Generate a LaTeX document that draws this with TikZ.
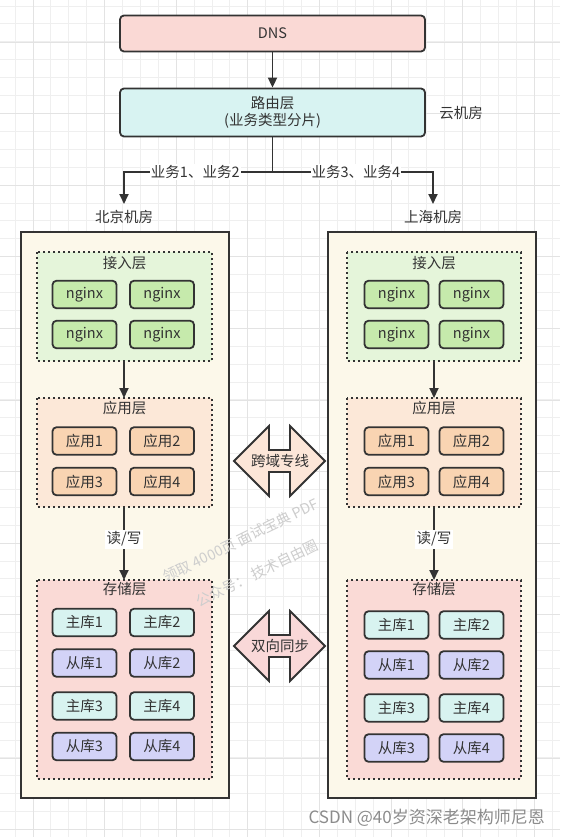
\documentclass[tikz,border=0pt]{standalone}
\usepackage{fontspec}
\setmainfont{Noto Sans CJK SC}
\usetikzlibrary{arrows.meta}
\definecolor{dark}{HTML}{333333}
\definecolor{gridlight}{HTML}{EFEFEF}
\definecolor{griddark}{HTML}{E3E3E3}
\definecolor{dnsfill}{HTML}{FAD9D5}
\definecolor{routefill}{HTML}{D8F3F2}
\definecolor{roomfill}{HTML}{FCF8EA}
\definecolor{accfill}{HTML}{E5F5DA}
\definecolor{nginxfill}{HTML}{C6EAAC}
\definecolor{appfill}{HTML}{FCE8D8}
\definecolor{appcell}{HTML}{F9D4B2}
\definecolor{storfill}{HTML}{FADAD6}
\definecolor{masterfill}{HTML}{D8F3F0}
\definecolor{slavefill}{HTML}{D3D3F7}
\definecolor{crossfill}{HTML}{FCE6D8}
\definecolor{syncfill}{HTML}{F9D8D8}
\definecolor{wm}{HTML}{CDCDCD}
\begin{document}
\begin{tikzpicture}[x=1pt,y=-1pt,
  font=\fontsize{14.5}{17}\selectfont, text=dark,
  cell/.style={draw=dark, line width=1.8pt, rounded corners=4pt,
    minimum width=64pt, minimum height=27.5pt, inner sep=0pt},
  wide/.style={draw=dark, line width=1.8pt, rounded corners=4pt,
    minimum width=305pt, inner sep=0pt, align=center},
  room/.style={draw=dark, line width=1.8pt, fill=roomfill},
  layer/.style={draw=dark, line width=2.2pt, dash pattern=on 2.2pt off 2.8pt},
  lbl/.style={inner sep=1pt},
  arr/.style={draw=dark, line width=1.8pt, -{Triangle[length=10pt,width=9pt]}},
  conn/.style={draw=dark, line width=1.8pt},
  dblarrow/.style={draw=dark, line width=1.8pt, line join=miter},
  wmark/.style={text=wm, font=\fontsize{14.5}{16}\selectfont, rotate=26, inner sep=0pt}]
\useasboundingbox (0,0) rectangle (560,837);
\fill[white] (0,0) rectangle (560,837);
% grid
\foreach \i in {0,...,30} \draw[gridlight, line width=0.8pt] ({15+17.9*\i},0) -- ({15+17.9*\i},837);
\foreach \i in {0,...,46} \draw[gridlight, line width=0.8pt] (0,{6+17.9*\i}) -- (560,{6+17.9*\i});
\foreach \i in {0,...,7} \draw[griddark, line width=0.9pt] ({33+71.6*\i},0) -- ({33+71.6*\i},837);
\foreach \i in {0,...,11} \draw[griddark, line width=0.9pt] (0,{42+71.6*\i}) -- (560,{42+71.6*\i});

% top
\node[wide, fill=dnsfill, minimum height=36pt] (dns) at (272.5,33.5) {DNS};
\node[wide, fill=routefill, minimum height=48pt] (route) at (272.5,112.5) {路由层\\(业务类型分片)};
\node[lbl] (cloud) at (461,113) {云机房};
\draw[arr] (dns) -- (route);
\coordinate (split) at (272.5,172);
\coordinate (bjin) at (124,204);
\coordinate (shin) at (433,204);
\node[lbl] (bjname) at (124,217) {北京机房};
\node[lbl] (shname) at (433,217) {上海机房};
\draw[conn] (route.south) -- (split);
\draw[arr] (split) -| node[pos=0.26, fill=white, inner sep=1pt] {业务1、业务2} (bjin);
\draw[arr] (split) -| node[pos=0.26, fill=white, inner sep=1pt] {业务3、业务4} (shin);

% rooms
\draw[room] (21,232) rectangle (229,798);
\draw[room] (328,232) rectangle (536,798);

% Beijing layers
\draw[layer, fill=accfill] (37,252) rectangle (212,361);
\draw[layer, fill=appfill] (37,398) rectangle (212,507);
\draw[layer, fill=storfill] (37,580) rectangle (212,779);
\node[lbl] (bjacc) at (124.5,263) {接入层};
\node[lbl] (bjapp) at (124.5,408) {应用层};
\node[lbl] (bjstor) at (124.5,589) {存储层};
\coordinate (bjaccb) at (124,361);
\coordinate (bjappt) at (124,398);
\coordinate (bjappb) at (124,507);
\coordinate (bjstort) at (124,580);
\draw[arr] (bjaccb) -- (bjappt);
\draw[arr] (bjappb) -- node[pos=0.44, fill=white, inner sep=2pt] {读/写} (bjstort);

\node[cell, fill=nginxfill] (bjn1) at (84.5,294.5) {nginx};
\node[cell, fill=nginxfill] (bjn2) at (162,294.5) {nginx};
\node[cell, fill=nginxfill] (bjn3) at (84.5,334.5) {nginx};
\node[cell, fill=nginxfill] (bjn4) at (162,334.5) {nginx};
\node[cell, fill=appcell] (bja1) at (84.5,441) {应用1};
\node[cell, fill=appcell] (bja2) at (162,441) {应用2};
\node[cell, fill=appcell] (bja3) at (84.5,481.5) {应用3};
\node[cell, fill=appcell] (bja4) at (162,481.5) {应用4};
\node[cell, fill=masterfill] (bjm1) at (84.5,622.5) {主库1};
\node[cell, fill=masterfill] (bjm2) at (162,622.5) {主库2};
\node[cell, fill=slavefill] (bjs1) at (84.5,663) {从库1};
\node[cell, fill=slavefill] (bjs2) at (162,663) {从库2};
\node[cell, fill=masterfill] (bjm3) at (84.5,706) {主库3};
\node[cell, fill=masterfill] (bjm4) at (162,706) {主库4};
\node[cell, fill=slavefill] (bjs3) at (84.5,746.5) {从库3};
\node[cell, fill=slavefill] (bjs4) at (162,746.5) {从库4};

% Shanghai layers
\draw[layer, fill=accfill] (347,252) rectangle (521,361);
\draw[layer, fill=appfill] (347,398) rectangle (521,507);
\draw[layer, fill=storfill] (347,580) rectangle (521,779);
\node[lbl] (shacc) at (434,263) {接入层};
\node[lbl] (shapp) at (434,408) {应用层};
\node[lbl] (shstor) at (434,589) {存储层};
\coordinate (shaccb) at (434,361);
\coordinate (shappt) at (434,398);
\coordinate (shappb) at (434,507);
\coordinate (shstort) at (434,580);
\draw[arr] (shaccb) -- (shappt);
\draw[arr] (shappb) -- node[pos=0.44, fill=white, inner sep=2pt] {读/写} (shstort);

\node[cell, fill=nginxfill] (shn1) at (396.5,294.5) {nginx};
\node[cell, fill=nginxfill] (shn2) at (471.5,294.5) {nginx};
\node[cell, fill=nginxfill] (shn3) at (396.5,334.5) {nginx};
\node[cell, fill=nginxfill] (shn4) at (471.5,334.5) {nginx};
\node[cell, fill=appcell] (sha1) at (396.5,441) {应用1};
\node[cell, fill=appcell] (sha2) at (471.5,441) {应用2};
\node[cell, fill=appcell] (sha3) at (396.5,481.5) {应用3};
\node[cell, fill=appcell] (sha4) at (471.5,481.5) {应用4};
\node[cell, fill=masterfill] (shm1) at (396.5,625) {主库1};
\node[cell, fill=masterfill] (shm2) at (471.5,625) {主库2};
\node[cell, fill=slavefill] (shs1) at (396.5,665) {从库1};
\node[cell, fill=slavefill] (shs2) at (471.5,665) {从库2};
\node[cell, fill=masterfill] (shm3) at (396.5,708) {主库3};
\node[cell, fill=masterfill] (shm4) at (471.5,708) {主库4};
\node[cell, fill=slavefill] (shs3) at (396.5,748) {从库3};
\node[cell, fill=slavefill] (shs4) at (471.5,748) {从库4};

% double arrows
\draw[dblarrow, fill=crossfill] (234,461) -- (269,426) -- (269,450) -- (290,450) -- (290,426) -- (325,461) -- (290,496) -- (290,472) -- (269,472) -- (269,496) -- cycle;
\node[lbl] (cross) at (280,461) {跨域专线};
\draw[dblarrow, fill=syncfill] (234,646) -- (269,611) -- (269,635) -- (290,635) -- (290,611) -- (325,646) -- (290,681) -- (290,657) -- (269,657) -- (269,681) -- cycle;
\node[lbl] (sync) at (280,646) {双向同步};

% watermarks
\node[wmark] (wm1) at (241,540) {领取 4000页 面试宝典 PDF};
\node[wmark] (wm2) at (257,573) {公众号：\ 技术自由圈};
\node[anchor=east, text=white, inner sep=0pt, font=\fontsize{17}{19}\selectfont] (csdnshadow) at (546.5,819.5) {CSDN @40岁资深老架构师尼恩};
\node[anchor=east, text=black!45, inner sep=0pt, font=\fontsize{17}{19}\selectfont] (csdn) at (545,818) {CSDN @40岁资深老架构师尼恩};
\end{tikzpicture}
\end{document}
